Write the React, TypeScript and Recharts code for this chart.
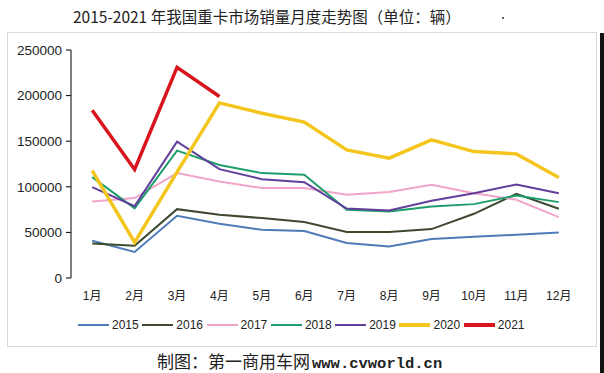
import React from 'react';
import { LineChart, Line, XAxis, YAxis } from 'recharts';

const categories = ['1月', '2月', '3月', '4月', '5月', '6月', '7月', '8月', '9月', '10月', '11月', '12月'];
const yTicks = [0, 50000, 100000, 150000, 200000, 250000];

const s2015 = [40800, 28500, 68200, 59500, 52900, 51500, 38300, 34600, 42700, 45200, 47400, 49900];
const s2016 = [37900, 35400, 75500, 69300, 65700, 61300, 50400, 50400, 53600, 70400, 92300, 75900];
const s2017 = [83900, 87600, 115000, 105800, 98600, 98600, 91200, 94200, 102200, 93000, 85700, 66800];
const s2018 = [110600, 76300, 139700, 124000, 115000, 113100, 74800, 73000, 78400, 81000, 90500, 83200];
const s2019 = [99600, 78800, 149400, 119400, 108400, 105100, 76200, 74000, 84600, 93000, 102500, 93000];
const s2020 = [117800, 39000, 116000, 192000, 180700, 171000, 140500, 131400, 151400, 138600, 136100, 110200];
const s2021 = [184000, 119000, 231000, 199000];

const series = [
  { name: '2015', values: s2015, color: '#4F7BB8', width: 2 },
  { name: '2016', values: s2016, color: '#3E4A30', width: 2 },
  { name: '2017', values: s2017, color: '#F0A5C9', width: 2 },
  { name: '2018', values: s2018, color: '#1E9E6A', width: 2 },
  { name: '2019', values: s2019, color: '#623F9C', width: 2 },
  { name: '2020', values: s2020, color: '#F4C51C', width: 3.5 },
  { name: '2021', values: s2021, color: '#D8141C', width: 3.5 },
];

const data = categories.map((c, i) => {
  const row: Record<string, number | string | null> = { m: i + 1, label: c };
  series.forEach((s) => {
    row[s.name] = i < s.values.length ? s.values[i] : null;
  });
  return row;
});

const boundaryTicks = [0.5, ...categories.map((_, i) => i + 1.5)];
const centerTicks = categories.map((_, i) => i + 1);

export default function App() {
  return (
    <div style={{ position: 'absolute', left: 0, top: 0, width: 604, height: 373, background: '#fff', overflow: 'hidden' }}>
      <div
        style={{
          position: 'absolute', left: 73, top: 6, fontFamily: '"Noto Sans CJK SC", sans-serif',
          fontSize: 15.5, color: '#222', whiteSpace: 'nowrap', lineHeight: '20px',
        }}
      >
        2015-2021 年我国重卡市场销量月度走势图（单位：辆）
      </div>
      <div style={{ position: 'absolute', left: 502, top: 17, width: 2, height: 2, background: '#666' }} />
      <div
        style={{
          position: 'absolute', left: 7, top: 32, width: 588, height: 313,
          border: '1px solid #D9D9D9', boxSizing: 'content-box',
        }}
      />
      <div style={{ position: 'absolute', left: 600, top: 33, width: 4, height: 340, background: '#111' }} />
      <div style={{ position: 'absolute', left: 0, top: 0 }}>
        <LineChart width={604} height={373} data={data} margin={{ top: 50, right: 24, left: 0, bottom: 65 }}>
          <XAxis
            xAxisId="grid"
            dataKey="m"
            type="number"
            domain={[0.5, 12.5]}
            ticks={boundaryTicks}
            height={0}
            tickSize={5}
            tickFormatter={() => ''}
            stroke="#000"
            axisLine={{ stroke: '#000', strokeWidth: 1 }}
            tickLine={{ stroke: '#000' }}
          />
          <XAxis
            xAxisId="lab"
            dataKey="m"
            type="number"
            domain={[0.5, 12.5]}
            ticks={centerTicks}
            height={30}
            axisLine={false}
            tickLine={false}
            tickSize={6}
            tickMargin={7}
            interval={0}
            tickFormatter={(v: number) => categories[v - 1]}
            tick={{ fill: '#222', fontSize: 12, fontFamily: '"Liberation Sans", "Noto Sans CJK SC", sans-serif' }}
          />
          <YAxis
            width={71}
            domain={[0, 250000]}
            ticks={yTicks}
            interval={0}
            tickSize={5}
            tickMargin={4}
            axisLine={{ stroke: '#000' }}
            tickLine={{ stroke: '#000' }}
            tick={{ fill: '#222', fontSize: 13.5, fontFamily: '"Liberation Sans", sans-serif' }}
          />
          {series.map((s) => (
            <Line
              key={s.name}
              xAxisId="grid"
              dataKey={s.name}
              stroke={s.color}
              strokeWidth={s.width}
              dot={false}
              activeDot={false}
              isAnimationActive={false}
              connectNulls={false}
            />
          ))}
        </LineChart>
      </div>
      <div style={{ position: 'absolute', left: 78, top: 317, height: 16, display: 'flex', alignItems: 'center' }}>
        {series.map((s) => (
          <div key={s.name} style={{ display: 'flex', alignItems: 'center', width: 64.3 }}>
            <div style={{ width: 31, height: s.width + 0.5, background: s.color }} />
            <span
              style={{
                marginLeft: 3, fontSize: 12, color: '#222',
                fontFamily: '"Liberation Sans", sans-serif', lineHeight: '16px',
              }}
            >
              {s.name}
            </span>
          </div>
        ))}
      </div>
      <div
        style={{
          position: 'absolute', left: 157, top: 351, whiteSpace: 'nowrap', lineHeight: '20px',
          fontSize: 17, color: '#222', fontFamily: '"Noto Sans CJK SC", sans-serif',
        }}
      >
        制图：第一商用车网<span style={{ fontFamily: '"Liberation Mono", monospace', fontWeight: 'bold', fontSize: 15.5, marginLeft: 2 }}>www.cvworld.cn</span>
      </div>
    </div>
  );
}
